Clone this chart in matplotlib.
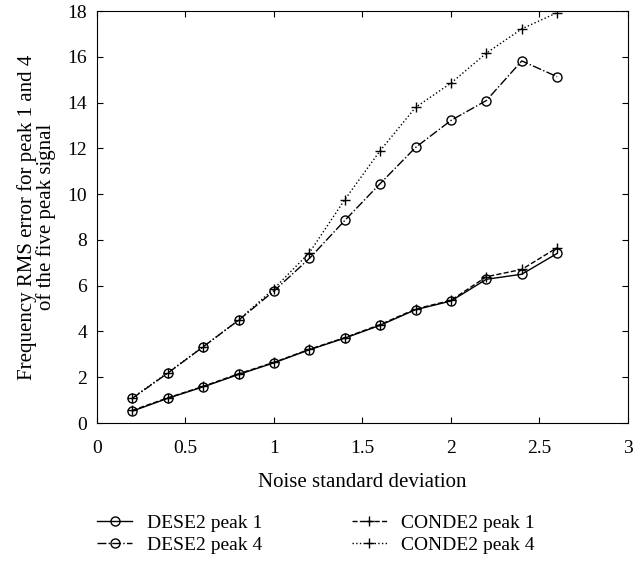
import matplotlib.pyplot as plt

plt.rcParams['font.family'] = ['Liberation Serif', 'DejaVu Serif']

noise_sd = [0.2, 0.4, 0.6, 0.8, 1.0, 1.2, 1.4, 1.6, 1.8, 2.0, 2.2, 2.4, 2.6]
dese2_peak1 = [0.52, 1.08, 1.58, 2.12, 2.63, 3.2, 3.71, 4.27, 4.95, 5.33, 6.28, 6.5, 7.41]
conde2_peak1 = [0.55, 1.1, 1.6, 2.15, 2.65, 3.22, 3.73, 4.3, 4.98, 5.36, 6.39, 6.71, 7.66]
dese2_peak4 = [1.08, 2.18, 3.33, 4.49, 5.77, 7.19, 8.85, 10.46, 12.04, 13.22, 14.09, 15.82, 15.13]
conde2_peak4 = [1.1, 2.2, 3.33, 4.5, 5.87, 7.44, 9.76, 11.9, 13.79, 14.85, 16.16, 17.22, 17.93]

fs = 14

fig = plt.figure(figsize=(6.44, 5.62), dpi=100)
ax = fig.add_axes([0.1506, 0.2473, 0.8245, 0.7331])

mk = dict(color='black', lw=1.0, markersize=6.5, markerfacecolor='none', markeredgewidth=1.0)
ax.plot(noise_sd, dese2_peak1, '-', marker='o', label='DESE2 peak 1', **mk)
ax.plot(noise_sd, dese2_peak4, '-.', marker='o', label='DESE2 peak 4', **mk)
ax.plot(noise_sd, conde2_peak1, '--', marker='+', label='CONDE2 peak 1', **mk)
ax.plot(noise_sd, conde2_peak4, ':', marker='+', label='CONDE2 peak 4', **mk)

ax.set_xlim(0, 3)
ax.set_ylim(0, 18)
ax.set_xticks([0, 0.5, 1, 1.5, 2, 2.5, 3])
ax.set_xticklabels(['0', '0.5', '1', '1.5', '2', '2.5', '3'])
ax.set_yticks(range(0, 19, 2))
ax.tick_params(direction='in', top=True, right=True, labelsize=fs, length=4)
ax.tick_params(axis='x', pad=12.5)
ax.tick_params(axis='y', pad=7)
ax.set_xlabel('Noise standard deviation', fontsize=15, labelpad=11)
ax.set_ylabel('Frequency RMS error for peak 1 and 4\nof the five peak signal',
              fontsize=15, linespacing=0.95)
ax.yaxis.set_label_coords(-0.077, 0.5)

handles, labels = ax.get_legend_handles_labels()
fig.legend(handles, labels, ncol=2,
           loc='upper left', bbox_to_anchor=(0.124, 0.116), frameon=False, fontsize=fs,
           handlelength=1.8, columnspacing=4.6, labelspacing=0.22, handletextpad=0.75)

fig.savefig('out.png', dpi=100)
